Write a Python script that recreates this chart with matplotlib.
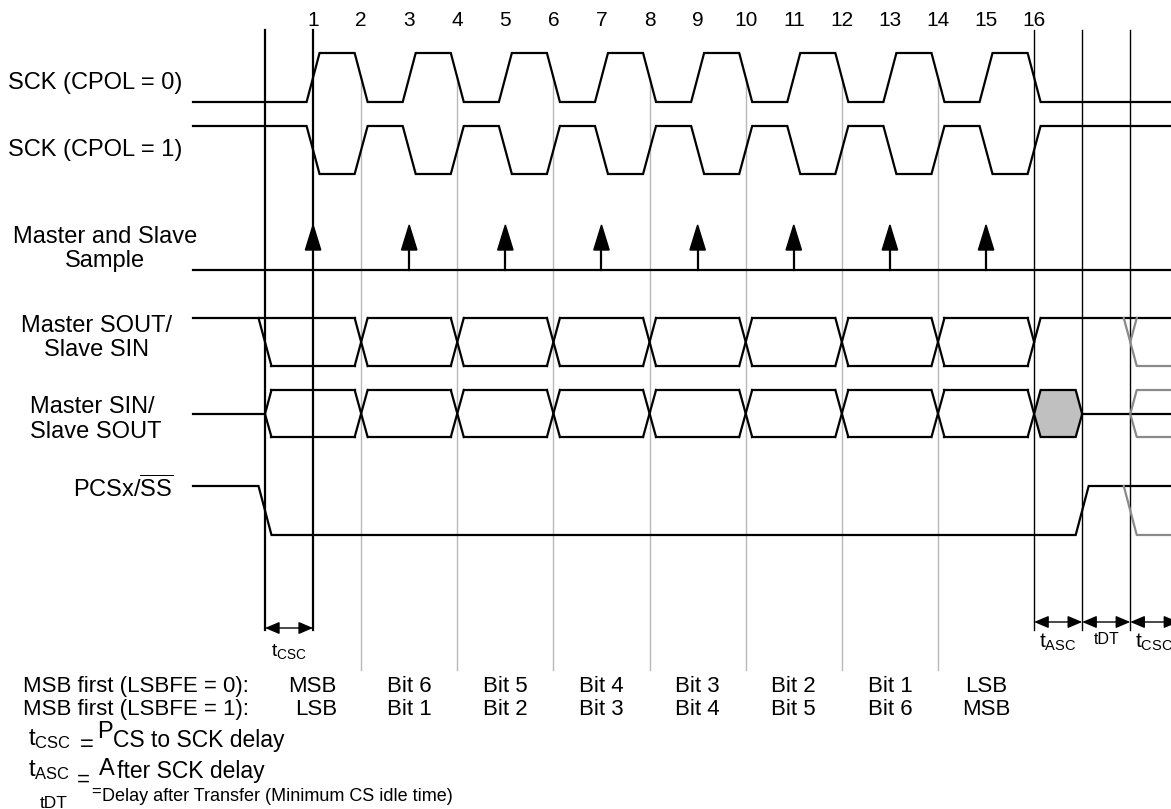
import matplotlib
matplotlib.use('Agg')
import matplotlib.pyplot as plt

plt.rcParams['font.family'] = ['Liberation Sans', 'DejaVu Sans']
plt.rcParams['mathtext.fontset'] = 'custom'
plt.rcParams['mathtext.rm'] = 'Liberation Sans'
plt.rcParams['mathtext.it'] = 'Liberation Sans:italic'
plt.rcParams['mathtext.bf'] = 'Liberation Sans:bold'

# timing data, in SCK half periods (t = 0 is the PCS falling edge)
edge_numbers = list(range(1, 17))
sample_edges = [1, 3, 5, 7, 9, 11, 13, 15]
data_edges = [2, 4, 6, 8, 10, 12, 14, 16]
grid_edges = [2, 4, 6, 8, 10, 12, 14]
cs_fall, cs_rise, cs_next = 0, 17, 18
delay_spans = [(0, 1), (16, 17), (17, 18), (18, 19)]

bits_lsbfe0 = ['MSB', 'Bit 6', 'Bit 5', 'Bit 4', 'Bit 3', 'Bit 2', 'Bit 1', 'LSB']
bits_lsbfe1 = ['LSB', 'Bit 1', 'Bit 2', 'Bit 3', 'Bit 4', 'Bit 5', 'Bit 6', 'MSB']

W, H = 1171, 809
T0_PX, HALF_PX = 265, 48.07
D = 0.135  # half width of a transition


def tx(px):
    return (px - T0_PX) / HALF_PX


fig = plt.figure(figsize=(W / 100, H / 100), dpi=100)
ax = fig.add_axes([0, 0, 1, 1])
ax.set_xlim(tx(0), tx(W))
ax.set_ylim(H, 0)
ax.axis('off')

x0, x1 = tx(193), tx(W)
K = dict(color='black', lw=1.6, solid_joinstyle='miter', zorder=3)
G = dict(color='#8a8a8a', lw=1.6, zorder=3)

# vertical reference lines
for e in grid_edges:
    ax.plot([e, e], [78, 670], color='#b8b8b8', lw=1.0, zorder=1)
for e in [cs_fall, 1]:
    ax.plot([e, e], [30, 630], color='black', lw=1.6, zorder=2)
for e in [16, cs_rise, cs_next]:
    ax.plot([e, e], [30, 630], color='black', lw=1.0, zorder=2)


# clocks
def clock(idle, other):
    xs, ys, lev = [x0], [idle], idle
    for e in edge_numbers:
        new = other if lev == idle else idle
        xs += [e - D, e + D]
        ys += [lev, new]
        lev = new
    xs.append(x1)
    ys.append(lev)
    ax.plot(xs, ys, **K)


clock(102, 53)
clock(126, 174)

# sample arrows
ax.plot([x0, x1], [270, 270], **K)
for e in sample_edges:
    if e != 1:
        ax.plot([e, e], [270, 248], **K)
    ax.fill([e - 0.16, e + 0.16, e], [250, 250, 225], color='black', zorder=4)

# Master SOUT / Slave SIN
top, bot, mid = 318, 366, 342
ax.plot([x0, data_edges[0] - D], [top, top], **K)
ax.plot([cs_fall - D, cs_fall + D], [top, bot], **K)
starts = [cs_fall] + data_edges[:-1]
for a, b in zip(starts, data_edges):
    if a != cs_fall:
        ax.plot([a + D, b - D], [top, top], **K)
    ax.plot([a + D, b - D], [bot, bot], **K)
for b in data_edges[:-1]:
    ax.plot([b - D, b + D], [top, bot], **K)
    ax.plot([b - D, b + D], [bot, top], **K)
last = data_edges[-1]
ax.plot([last - D, last + D], [bot, top], **K)
ax.plot([last - D, last], [top, mid], **K)
ax.plot([last + D, x1], [top, top], **K)
ax.plot([cs_next - D, cs_next + D, x1], [top, bot, bot], **G)
ax.plot([cs_next + D, cs_next], [top, mid], **G)

# Master SIN / Slave SOUT
top, bot, mid = 390, 437, 414
ax.plot([x0, cs_fall], [mid, mid], **K)
ax.plot([cs_fall + D, cs_fall, cs_fall + D], [top, mid, bot], **K)
for a, b in zip(starts, data_edges):
    ax.plot([a + D, b - D], [top, top], **K)
    ax.plot([a + D, b - D], [bot, bot], **K)
for b in data_edges[:-1]:
    ax.plot([b - D, b + D], [top, bot], **K)
    ax.plot([b - D, b + D], [bot, top], **K)
ax.plot([last - D, last], [top, mid], **K)
ax.plot([last - D, last], [bot, mid], **K)
ax.fill([last, last + D, cs_rise - D, cs_rise, cs_rise - D, last + D],
        [mid, top, top, mid, bot, bot], facecolor='#c0c0c0',
        edgecolor='black', lw=1.6, zorder=3)
ax.plot([cs_rise, x1], [mid, mid], **K)
ax.plot([x1, cs_next + D, cs_next, cs_next + D, x1], [top, top, mid, bot, bot], **G)

# PCSx / SS
hi, lo = 486, 535
ax.plot([x0, cs_fall - D, cs_fall + D, cs_rise - D, cs_rise + D, x1],
        [hi, hi, lo, lo, hi, hi], **K)
ax.plot([cs_next - D, cs_next + D, x1], [hi, lo, lo], **G)

# delay arrows
arr = dict(arrowstyle='<|-|>,head_length=0.4,head_width=0.17', color='black',
           lw=1.0, shrinkA=0, shrinkB=0, mutation_scale=22)
for a, b in delay_spans:
    y = 628 if a == cs_fall else 622
    ax.annotate('', xy=(b, y), xytext=(a, y), arrowprops=arr, annotation_clip=False)

ax.text(0.5, 656, 't$_{\\mathrm{CSC}}$', fontsize=14, ha='center', va='baseline')
ax.text(16.5, 648, 't$_{\\mathrm{ASC}}$', fontsize=15, ha='center', va='baseline')
ax.text(17.5, 644, 'tDT', fontsize=11.5, ha='center', va='baseline')
ax.text(tx(1135), 648, 't$_{\\mathrm{CSC}}$', fontsize=15, ha='left', va='baseline')

# edge numbers
for e in edge_numbers:
    ax.text(e, 26, str(e), fontsize=15, ha='center', va='baseline')

# signal names
lab = dict(fontsize=17, va='baseline')
ax.text(tx(8), 89, 'SCK (CPOL = 0)', ha='left', **lab)
ax.text(tx(8), 156, 'SCK (CPOL = 1)', ha='left', **lab)
ax.text(tx(105), 243, 'Master and Slave', ha='center', **lab)
ax.text(tx(105), 267, 'Sample', ha='center', **lab)
ax.text(tx(97), 332, 'Master SOUT/', ha='center', **lab)
ax.text(tx(97), 356, 'Slave SIN', ha='center', **lab)
ax.text(tx(30), 413, 'Master SIN/', ha='left', **lab)
ax.text(tx(30), 438, 'Slave SOUT', ha='left', **lab)
ax.text(tx(173), 497, 'PCSx/$\\overline{\\mathrm{SS}}$', ha='right', **lab)

# bit order rows
bl = dict(fontsize=16, va='baseline')
ax.text(tx(23), 692, 'MSB first (LSBFE = 0):', ha='left', **bl)
ax.text(tx(23), 715, 'MSB first (LSBFE = 1):', ha='left', **bl)
for i, e in enumerate(sample_edges):
    if i == 0:
        ax.text(tx(337), 692, bits_lsbfe0[i], ha='right', **bl)
        ax.text(tx(337), 715, bits_lsbfe1[i], ha='right', **bl)
    else:
        ax.text(e, 692, bits_lsbfe0[i], ha='center', **bl)
        ax.text(e, 715, bits_lsbfe1[i], ha='center', **bl)

# definitions
ax.text(tx(28), 745, 't$_{\\mathrm{CSC}}$', fontsize=17, va='baseline')
ax.text(tx(80), 751, '=', fontsize=17, va='baseline')
ax.text(tx(97), 738, 'P', fontsize=17, va='baseline')
ax.text(tx(113), 747, 'CS to SCK delay', fontsize=16.5, va='baseline')

ax.text(tx(28), 776, 't$_{\\mathrm{ASC}}$', fontsize=17, va='baseline')
ax.text(tx(77), 786, '=', fontsize=16, va='baseline')
ax.text(tx(99), 775, 'A', fontsize=17, va='baseline')
ax.text(tx(117), 778, 'fter SCK delay', fontsize=16.5, va='baseline')

ax.text(tx(40), 808, 'tDT', fontsize=12.5, va='baseline')
ax.text(tx(91), 797, '=', fontsize=12, va='baseline')
ax.text(tx(102), 801, 'Delay after Transfer (Minimum CS idle time)', fontsize=13, va='baseline')

fig.savefig('out.png', dpi=100)
